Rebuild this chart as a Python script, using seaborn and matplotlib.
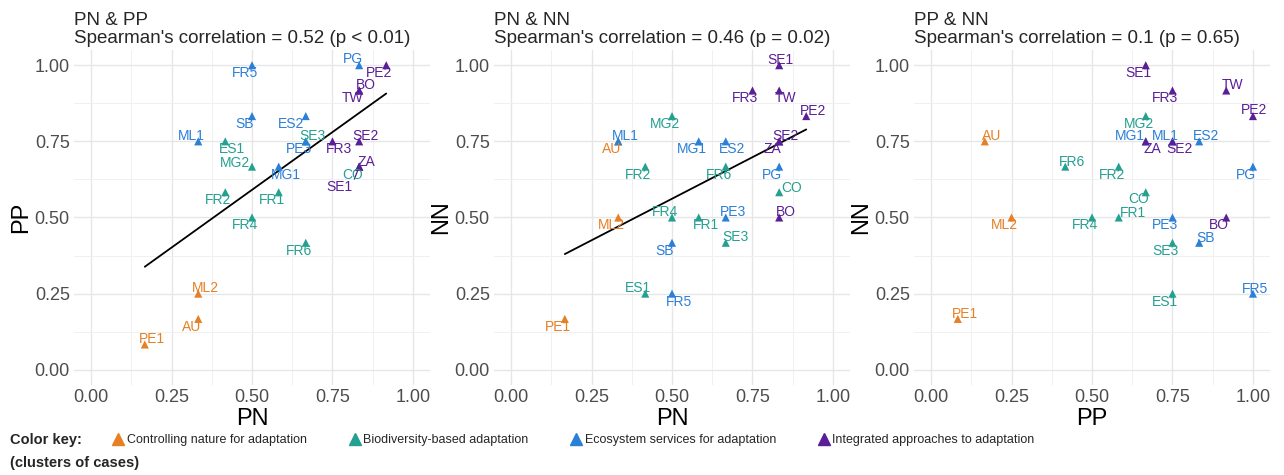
import numpy as np
import pandas as pd
import matplotlib.pyplot as plt
import seaborn as sns
from matplotlib.lines import Line2D

# ------------------------------
# Data (scores per case)
# ------------------------------
cases = ["PE1", "AU", "ML2",
         "ES1", "MG2", "FR2", "FR1", "FR4", "FR6", "SE3", "CO",
         "FR5", "PG", "SB", "ES2", "ML1", "PE3", "MG1",
         "PE2", "BO", "TW", "SE2", "FR3", "ZA", "SE1"]
cluster = (["Controlling nature for adaptation"] * 3
           + ["Biodiversity-based adaptation"] * 8
           + ["Ecosystem services for adaptation"] * 7
           + ["Integrated approaches to adaptation"] * 7)
pn = [0.167, 0.333, 0.333,
      0.417, 0.5, 0.417, 0.583, 0.5, 0.667, 0.667, 0.833,
      0.5, 0.833, 0.5, 0.667, 0.333, 0.667, 0.583,
      0.917, 0.833, 0.833, 0.833, 0.75, 0.833, 0.833]
pp = [0.083, 0.167, 0.25,
      0.75, 0.667, 0.583, 0.583, 0.5, 0.417, 0.75, 0.667,
      1.0, 1.0, 0.833, 0.833, 0.75, 0.75, 0.667,
      1.0, 0.917, 0.917, 0.75, 0.75, 0.667, 0.667]
nn = [0.167, 0.75, 0.5,
      0.25, 0.833, 0.667, 0.5, 0.5, 0.667, 0.417, 0.583,
      0.25, 0.667, 0.417, 0.75, 0.75, 0.5, 0.75,
      0.833, 0.5, 0.917, 0.75, 0.917, 0.75, 1.0]

cluster_names = ["Controlling nature for adaptation", "Biodiversity-based adaptation",
                 "Ecosystem services for adaptation", "Integrated approaches to adaptation"]
cluster_colors = ["#E58025", "#24A091", "#2A7FD8", "#5A1E96"]

panel_titles = ["PN & PP\nSpearman's correlation = 0.52 (p < 0.01)",
                "PN & NN\nSpearman's correlation = 0.46 (p = 0.02)",
                "PP & NN\nSpearman's correlation = 0.1 (p = 0.65)"]

df = pd.DataFrame({"case": cases, "cluster": cluster, "PN": pn, "PP": pp, "NN": nn})
palette = dict(zip(cluster_names, cluster_colors))

# label offsets (like ggrepel) per panel
UR, UL, DR, DL = (0.021, 0.017), (-0.022, 0.017), (0.021, -0.026), (-0.022, -0.026)
offsets = [
    {"FR5": DL, "PG": (-0.02, 0.019), "PE2": DL, "BO": UR, "TW": DL, "SB": DL,
     "ES2": (-0.047, -0.025), "ML1": UL, "ES1": DR, "SE3": UR, "PE3": DL, "FR3": DR,
     "SE2": UR, "MG2": (-0.054, 0.011), "MG1": DR, "ZA": (0.023, 0.014), "CO": (-0.019, -0.027),
     "SE1": (-0.062, -0.068), "FR2": DL, "FR1": DL, "FR4": DL, "FR6": DL, "ML2": UR,
     "AU": DL, "PE1": UR},
    {"SE1": (0.005, 0.016), "FR3": DL, "TW": DR, "PE2": UR, "MG2": DL, "ML1": UR, "AU": DL,
     "MG1": DL, "ES2": DR, "SE2": UR, "ZA": DL, "FR2": DL, "FR6": DL, "PG": DL,
     "CO": (0.04, 0.015), "ML2": DL, "FR4": UL, "FR1": DR, "PE3": UR, "BO": UR, "SB": DL,
     "SE3": (0.031, 0.019), "ES1": UL, "FR5": DR, "PE1": DL},
    {"SE1": DL, "TW": UR, "FR3": DL, "PE2": (0.003, 0.019), "MG2": DL, "AU": UR,
     "MG1": (-0.05, 0.016), "ML1": UL, "ES2": UR, "ZA": DR, "SE2": DR, "FR6": (0.02, 0.014),
     "FR2": DL, "PG": DL, "CO": (-0.022, -0.023), "FR1": (0.043, 0.015), "ML2": DL, "FR4": DL,
     "PE3": DL, "BO": DL, "SB": UR, "SE3": DL, "FR5": (0.005, 0.016), "ES1": DL, "PE1": UR},
]

pairs = [("PN", "PP"), ("PN", "NN"), ("PP", "NN")]
fit_line = [True, True, False]

# ------------------------------
# Plot
# ------------------------------
sns.set_theme(style="whitegrid")
plt.rcParams["font.family"] = ["Liberation Sans", "DejaVu Sans"]

fig = plt.figure(figsize=(12.84, 4.75), dpi=100)
lefts = [74 / 1284, 494 / 1284, 914 / 1284]
ax_w = 356 / 1284
ax_b, ax_h = 1 - 385 / 475, 335 / 475

ticks = [0, 0.25, 0.5, 0.75, 1.0]
for i, (xv, yv) in enumerate(pairs):
    ax = fig.add_axes([lefts[i], ax_b, ax_w, ax_h])
    sns.scatterplot(data=df, x=xv, y=yv, hue="cluster", palette=palette, marker="^",
                    s=34, edgecolor="none", legend=False, ax=ax, zorder=3)
    if fit_line[i]:
        sns.regplot(data=df, x=xv, y=yv, scatter=False, ci=None, ax=ax,
                    line_kws={"color": "black", "lw": 1.3, "zorder": 2})
    for _, row in df.iterrows():
        dx, dy = offsets[i][row["case"]]
        ax.text(row[xv] + dx, row[yv] + dy, row["case"], color=palette[row["cluster"]],
                fontsize=10, ha="center", va="center", zorder=4)
    if i == 0:
        ax.plot([0.833, 0.818], [0.667, 0.626], color=palette[cluster_names[3]], lw=0.9, zorder=3)

    ax.set_xlim(-0.053, 1.053)
    ax.set_ylim(-0.05, 1.05)
    ax.set_xticks(ticks)
    ax.set_yticks(ticks)
    ax.set_xticklabels(["0.00", "0.25", "0.50", "0.75", "1.00"])
    ax.set_yticklabels(["0.00", "0.25", "0.50", "0.75", "1.00"])
    ax.set_xticks([0.125, 0.375, 0.625, 0.875], minor=True)
    ax.set_yticks([0.125, 0.375, 0.625, 0.875], minor=True)
    ax.grid(which="major", color="#E6E6E6", lw=1.0)
    ax.grid(which="minor", color="#F0F0F0", lw=0.7)
    ax.tick_params(which="both", length=0, labelsize=13, labelcolor="#4D4D4D", pad=3)
    for s in ax.spines.values():
        s.set_visible(False)
    ax.set_facecolor("white")
    ax.set_xlabel(xv, fontsize=17, labelpad=1, color="black")
    ax.set_ylabel(yv, fontsize=17, labelpad=2, color="black")
    ax.set_title(panel_titles[i], loc="left", fontsize=13.5, pad=5, linespacing=1.1)

# ------------------------------
# Colour key
# ------------------------------
key_font = ["Liberation Sans", "DejaVu Sans"]
fig.text(10 / 1284, 1 - 440 / 475, "Color key:", fontsize=10.5, fontweight="bold",
         family=key_font, va="center")
fig.text(10 / 1284, 1 - 463 / 475, "(clusters of cases)", fontsize=10.5, fontweight="bold",
         family=key_font, va="center")
handles = [Line2D([], [], marker="^", ls="none", color=c, markersize=9) for c in cluster_colors]
fig.legend(handles, cluster_names, loc="center left", bbox_to_anchor=(112 / 1284, 1 - 440 / 475),
           ncol=4, frameon=False, handletextpad=0.2, columnspacing=3.3, handlelength=1.0,
           prop={"family": key_font, "size": 9}, borderaxespad=0, borderpad=0)

fig.savefig("out.png", dpi=100, facecolor="white")
